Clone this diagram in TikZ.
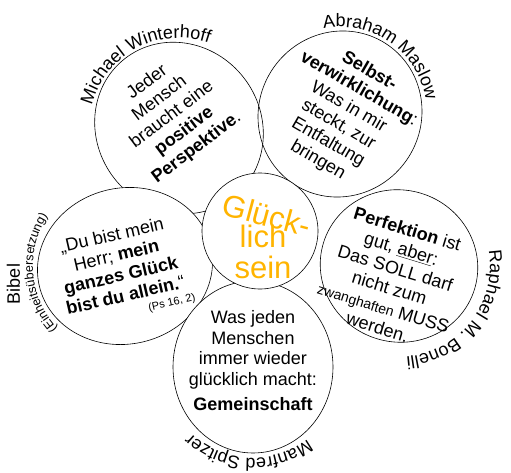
\documentclass[tikz,border=0pt]{standalone}
\usepackage{fontspec}
\setmainfont{Liberation Sans}
\usepackage{xcolor}
\usetikzlibrary{shapes.geometric,decorations.text}
\definecolor{glueck}{RGB}{255,180,0}
\newcommand\lblfont{\fontsize{18}{20}\selectfont}
\newcommand\smallfont{\fontsize{12.5}{14}\selectfont}

\begin{document}
\begin{tikzpicture}[x=1pt,y=1pt,
  petal/.style={ellipse,draw,line width=0.6pt,inner sep=0pt},
  ptext/.style={align=center,inner sep=0pt,font=\fontsize{18}{20.5}\selectfont},
  gtext/.style={inner sep=0pt,text=glueck,font=\fontsize{31}{32}\selectfont},
  lbl/.style={decorate,decoration={text along path,text align=center,text={#1}}}]
  \useasboundingbox (0,0) rectangle (511,472);
  % petals
  \node[petal,fill=white,minimum width=176pt,minimum height=164pt,rotate=-52] (winter) at (179,344) {};
  \node[petal,minimum width=168pt,minimum height=162pt,rotate=55] (maslow) at (340,358) {};
  \node[petal,fill=white,minimum width=158pt,minimum height=152pt,rotate=-17] (bonelli) at (399,206) {};
  \node[petal,fill=white,minimum width=176pt,minimum height=156pt,rotate=13] (bibel) at (125,206) {};
  \node[petal,fill=white,minimum width=160pt,minimum height=172pt] (spitzer) at (253,105) {};
  \node[petal,circle,fill=white,minimum size=116pt] (glueck) at (260,241) {};
  % petal texts
  \node[ptext,rotate=37] (wintertext) at (172,357) {Jeder\\Mensch\\braucht eine\\\textbf{positive}\\\textbf{Perspektive}.};
  \node[ptext,rotate=-30] (maslowtext) at (343.5,356) {\textbf{Selbst-}\\\textbf{verwirklichung}:\\Was in mir\\steckt, zur\\Entfaltung\\bringen};
  \node[ptext,rotate=13] (bibeltext) at (118.5,207) {„Du bist mein\\Herr; \textbf{mein}\\\textbf{ganzes Glück}\\\textbf{bist du allein.}“};
  \node[rotate=13,inner sep=0pt,font=\fontsize{11}{12}\selectfont] (psalm) at (172,169) {(Ps 16, 2)};
  \node[ptext,rotate=-17] (bonellitext) at (392.5,194) {\textbf{Perfektion} ist\\gut, \underline{aber}:\\Das SOLL darf\\nicht zum\\{\fontsize{14}{16}\selectfont zwanghaften} MUSS\\werden.};
  \node[ptext] (spitzertext) at (253,111) {Was jeden\\Menschen\\immer wieder\\glücklich macht:\\[5pt]\textbf{Gemeinschaft}};
  % centre
  \node[gtext,rotate=-15] (glueck1) at (267,257) {Glück-};
  \node[gtext] (glueck2) at (263,236) {lich};
  \node[gtext] (glueck3) at (263,205) {sein};
  % names
  \path[lbl={|\lblfont|Michael Winterhoff}] ([shift={(178:90pt)}]winter.center) arc[start angle=178,end angle=58,radius=90pt];
  \path[lbl={|\lblfont|Abraham Maslow}] ([shift={(115:87pt)}]maslow.center) arc[start angle=115,end angle=-5,radius=87pt];
  \path[lbl={|\lblfont|Raphael M. Bonelli}] ([shift={(24:91pt)}]bonelli.center) arc[start angle=24,end angle=-100,radius=91pt];
  \path[lbl={|\lblfont|Manfred Spitzer}] ([shift={(-33:91pt)}]spitzer.center) arc[start angle=-33,end angle=-153,radius=91pt];
  \path[lbl={|\smallfont|(Einheitsübersetzung)}] ([shift={(245:92pt)}]bibel.center) arc[start angle=245,end angle=125,radius=92pt];
  \node[rotate=90,inner sep=0pt,font=\lblfont] (bibellabel) at (13.5,188) {Bibel};
\end{tikzpicture}
\end{document}
